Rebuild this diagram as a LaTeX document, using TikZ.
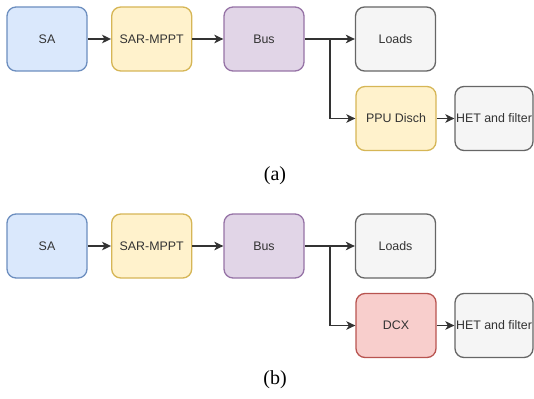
\documentclass[tikz,border=0pt]{standalone}
\usepackage{fontspec}
\setmainfont{Liberation Serif}
\newfontfamily\blkfont{Liberation Sans}
\usepackage{xcolor}
\usepackage{tikz}
\usetikzlibrary{arrows.meta, positioning}

\definecolor{saF}{HTML}{DAE8FC}\definecolor{saD}{HTML}{6C8EBF}
\definecolor{ylF}{HTML}{FFF2CC}\definecolor{ylD}{HTML}{D6B656}
\definecolor{puF}{HTML}{E1D5E7}\definecolor{puD}{HTML}{9673A6}
\definecolor{grF}{HTML}{F5F5F5}\definecolor{grD}{HTML}{666666}
\definecolor{rdF}{HTML}{F8CECC}\definecolor{rdD}{HTML}{B85450}
\definecolor{txt}{HTML}{333333}

\tikzset{
    blk/.style={draw, line width=1.3pt, rounded corners=9pt, minimum width=80pt,
        minimum height=64pt, inner sep=0pt, text=txt,
        font=\blkfont\fontsize{12.4}{14}\selectfont},
    wire/.style={line width=1.5pt, draw=black!80},
    arr/.style={wire, ->},
    capt/.style={font=\fontsize{20}{22}\selectfont}
}

\begin{document}
\begin{tikzpicture}[x=1pt, y=-1pt, >={Stealth[length=9pt, width=8.5pt, inset=2.5pt]}]
    \useasboundingbox (0,0) rectangle (534,398);
    \foreach \dy/\sub/\cy/\ptxt/\pf/\pd in {0/a/176/PPU Disch/ylF/ylD, 207/b/173/DCX/rdF/rdD} {
    \begin{scope}[yshift=-\dy pt]
        % 1. Các khối
        \node[blk, fill=saF, draw=saD] (sa) at (47,39) {SA};
        \node[blk, fill=ylF, draw=ylD] (sar) at (151.7,39) {SAR-MPPT};
        \node[blk, fill=puF, draw=puD] (bus) at (264,39) {Bus};
        \node[blk, fill=grF, draw=grD] (loads) at (395.5,39) {Loads};
        \node[blk, fill=\pf, draw=\pd] (ppu) at (396,118.5) {\ptxt};
        \node[blk, fill=grF, draw=grD, minimum width=78pt] (het) at (494,118.5) {HET and filter};

        % 2. Mũi tên
        \coordinate (j) at (330,39);
        \draw[arr] (sa) -- (sar);
        \draw[arr] (sar) -- (bus);
        \draw[wire] (bus) -- (j);
        \draw[arr] (j) -- (loads);
        \draw[arr] (j) |- (ppu);
        \draw[arr] (ppu) -- (het);

        % 3. Nhãn
        \node[capt] (cap) at (275,\cy) {(\sub)};
    \end{scope}
    }
\end{tikzpicture}
\end{document}
